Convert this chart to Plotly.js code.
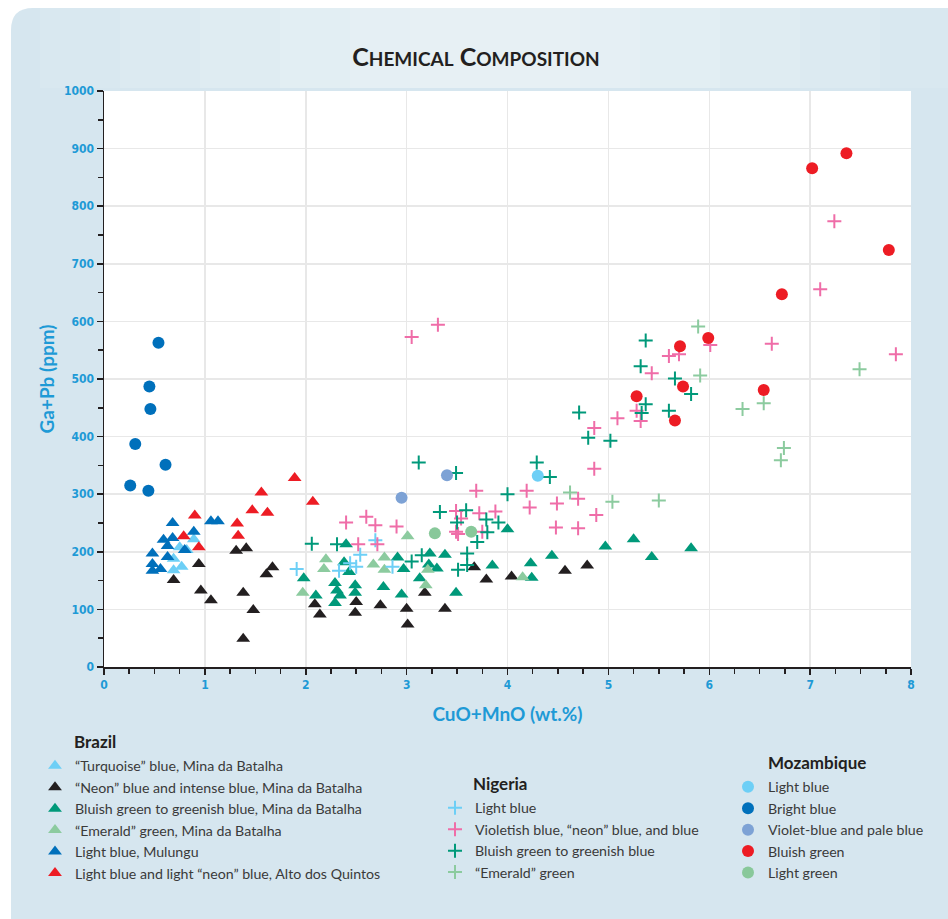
<!DOCTYPE html>
<html>
<head>
<meta charset="utf-8">
<script src="https://cdn.plot.ly/plotly-3.0.1.min.js"></script>
<style>html,body{margin:0;padding:0;background:#fff;}#chart{width:948px;height:919px;}</style>
</head>
<body>
<div id="chart"></div>
<script>
// ---------- Data (CuO+MnO wt.% , Ga+Pb ppm) ----------
// Brazil
const brTurqX = [0.69, 0.69, 0.75, 0.77, 0.82, 0.89];
const brTurqY = [188, 168, 208, 174, 203, 222];

const brNeonX = [0.69, 0.94, 0.96, 1.06, 1.31, 1.41, 1.38, 1.48, 1.38, 1.61, 1.67, 2.09, 2.14, 2.50, 2.49, 2.74, 3.00, 3.01, 3.18, 3.38, 3.67, 3.79, 4.04, 4.57, 4.79];
const brNeonY = [151, 179, 133, 116, 202, 206, 129, 99, 49, 161, 173, 109, 91, 113, 94, 107, 101, 74, 129, 101, 173, 152, 157, 167, 176];

const brBgX = [1.98, 2.10, 2.40, 2.38, 2.43, 2.29, 2.31, 2.34, 2.29, 2.49, 2.49, 2.77, 2.91, 2.97, 2.95, 3.13, 3.23, 3.22, 3.30, 3.38, 3.49, 3.85, 4.00, 4.23, 4.24, 4.44, 4.97, 5.25, 5.43, 5.82];
const brBgY = [154, 124, 213, 182, 165, 146, 133, 124, 111, 142, 129, 139, 190, 170, 126, 154, 197, 178, 171, 195, 129, 176, 239, 180, 155, 193, 209, 222, 191, 206];

const brEmX = [1.97, 2.20, 2.18, 2.67, 2.78, 2.78, 3.01, 3.21, 3.19, 4.15];
const brEmY = [129, 187, 170, 178, 190, 169, 227, 169, 142, 156];

const brMulX = [0.48, 0.48, 0.48, 0.56, 0.59, 0.68, 0.68, 0.63, 0.63, 0.80, 0.89, 1.06, 1.13];
const brMulY = [197, 179, 167, 170, 221, 250, 224, 210, 191, 203, 235, 253, 253];

const brAltoX = [0.79, 0.90, 0.94, 1.32, 1.33, 1.47, 1.56, 1.62, 1.89, 2.07];
const brAltoY = [227, 263, 208, 249, 228, 272, 303, 268, 328, 287];

// Nigeria
const ngLbX = [1.91, 2.33, 2.44, 2.50, 2.54, 2.69, 2.86];
const ngLbY = [170, 167, 180, 174, 195, 220, 174];

const ngVioX = [2.40, 2.52, 2.60, 2.69, 2.71, 2.90, 3.05, 3.31, 3.49, 3.54, 3.49, 3.51, 3.69, 3.72, 3.75, 3.88, 4.19, 4.22, 4.49, 4.48, 4.70, 4.70, 4.86, 4.86, 4.88, 5.09, 5.28, 5.32, 5.43, 5.60, 5.70, 6.01, 6.62, 7.10, 7.24, 7.85];
const ngVioY = [251, 213, 261, 246, 213, 244, 573, 594, 271, 258, 235, 231, 306, 267, 235, 270, 306, 277, 284, 242, 292, 241, 415, 344, 264, 432, 445, 427, 510, 540, 543, 559, 561, 656, 774, 543];

const ngBgX = [2.06, 2.31, 3.05, 3.12, 3.15, 3.33, 3.49, 3.50, 3.51, 3.59, 3.60, 3.60, 3.70, 3.79, 3.80, 3.91, 4.00, 4.29, 4.42, 4.71, 4.80, 5.02, 5.32, 5.33, 5.37, 5.37, 5.60, 5.66, 5.82];
const ngBgY = [214, 213, 183, 355, 194, 269, 337, 251, 169, 272, 197, 177, 217, 256, 234, 251, 300, 355, 330, 442, 398, 393, 522, 441, 456, 567, 445, 501, 474];

const ngEmX = [4.62, 5.04, 5.50, 5.89, 5.91, 6.33, 6.54, 6.74, 6.71, 7.49];
const ngEmY = [303, 287, 289, 591, 506, 448, 458, 380, 359, 517];

// Mozambique
const mzLbX = [4.30];
const mzLbY = [332];

const mzBbX = [0.54, 0.45, 0.46, 0.31, 0.61, 0.26, 0.44];
const mzBbY = [563, 487, 448, 387, 351, 315, 306];

const mzVioX = [2.95, 3.40];
const mzVioY = [294, 333];

const mzBgX = [5.71, 5.99, 5.28, 5.74, 5.66, 6.54, 7.02, 7.36, 7.78, 6.72];
const mzBgY = [557, 571, 470, 487, 428, 481, 866, 892, 724, 647];

const mzLgX = [3.28, 3.64];
const mzLgY = [232, 235];

// ---------- Styling ----------
const C = {
  turq: '#6DCFF6', black: '#231F20', bgreen: '#00997A', emerald: '#8CCB9F',
  mul: '#0070BB', red: '#ED1C24', pink: '#EF6DA8', vio: '#7DA2D5', lgreen: '#88C89A'
};
const TXT = 'Lato, "Open Sans", sans-serif';

function tri(x, y, color, name, legend) {
  return {x, y, name, type: 'scatter', mode: 'markers', legend,
    marker: {symbol: 'triangle-up', size: 12, color, line: {width: 0}}};
}
function crs(x, y, color, name, legend) {
  return {x, y, name, type: 'scatter', mode: 'markers', legend,
    marker: {symbol: 'cross-thin', size: 10, color, line: {width: 2, color}}};
}
function dot(x, y, color, name, legend) {
  return {x, y, name, type: 'scatter', mode: 'markers', legend,
    marker: {symbol: 'circle', size: 12, color, line: {width: 0}}};
}

const traces = [
  tri(brTurqX, brTurqY, C.turq, '\u201CTurquoise\u201D blue, Mina da Batalha', 'legend'),
  tri(brNeonX, brNeonY, C.black, '\u201CNeon\u201D blue and intense blue, Mina da Batalha', 'legend'),
  tri(brBgX, brBgY, C.bgreen, 'Bluish green to greenish blue, Mina da Batalha', 'legend'),
  tri(brEmX, brEmY, C.emerald, '\u201CEmerald\u201D green, Mina da Batalha', 'legend'),
  tri(brMulX, brMulY, C.mul, 'Light blue, Mulungu', 'legend'),
  tri(brAltoX, brAltoY, C.red, 'Light blue and light \u201Cneon\u201D blue, Alto dos Quintos', 'legend'),
  crs(ngLbX, ngLbY, C.turq, 'Light blue', 'legend2'),
  crs(ngVioX, ngVioY, C.pink, 'Violetish blue, \u201Cneon\u201D blue, and blue', 'legend2'),
  crs(ngBgX, ngBgY, C.bgreen, 'Bluish green to greenish blue', 'legend2'),
  crs(ngEmX, ngEmY, C.emerald, '\u201CEmerald\u201D green', 'legend2'),
  dot(mzLbX, mzLbY, C.turq, 'Light blue', 'legend3'),
  dot(mzBbX, mzBbY, C.mul, 'Bright blue', 'legend3'),
  dot(mzVioX, mzVioY, C.vio, 'Violet-blue and pale blue', 'legend3'),
  dot(mzBgX, mzBgY, C.red, 'Bluish green', 'legend3'),
  dot(mzLgX, mzLgY, C.lgreen, 'Light green', 'legend3')
];

// pixel helpers for layout (plot area: x 104..911, y 91..667)
const W = 948, H = 919, L = 104, R = 37, T = 91, B = 252;
const pw = W - L - R, ph = H - T - B;
const px = v => (v - L) / pw;
const py = v => (H - B - v) / ph;

const shapes = [];
// panel with rounded top-left corner
const r = 22;
shapes.push({type: 'path', xref: 'paper', yref: 'paper', layer: 'below',
  path: `M ${px(11)},${py(919)} L ${px(11)},${py(8 + r)} Q ${px(11)},${py(8)} ${px(11 + r)},${py(8)} L ${px(948)},${py(8)} L ${px(948)},${py(919)} Z`,
  fillcolor: '#D6E6EF', line: {width: 0}});
// soft highlight at top
const hl = [[40, 948, 0.08], [120, 880, 0.09], [200, 800, 0.10], [280, 720, 0.10], [350, 640, 0.10], [410, 580, 0.08]];
hl.forEach(([a, b, o]) => {
  shapes.push({type: 'rect', xref: 'paper', yref: 'paper', layer: 'below',
    x0: px(a), x1: px(b), y0: py(88), y1: py(8),
    fillcolor: 'rgba(255,255,255,' + o + ')', line: {width: 0}});
});
// white plot area
shapes.push({type: 'rect', xref: 'paper', yref: 'paper', layer: 'below',
  x0: 0, x1: 1, y0: 0, y1: 1, fillcolor: '#FFFFFF', line: {width: 0}});

const headFont = {family: TXT, size: 17, color: '#231F20', weight: 'bold'};
const annotations = [
  {text: '<b>Brazil</b>', x: px(72), y: py(741), xref: 'paper', yref: 'paper', xanchor: 'left', yanchor: 'middle', showarrow: false, font: headFont},
  {text: '<b>Nigeria</b>', x: px(471), y: py(783), xref: 'paper', yref: 'paper', xanchor: 'left', yanchor: 'middle', showarrow: false, font: headFont},
  {text: '<b>Mozambique</b>', x: px(766), y: py(762), xref: 'paper', yref: 'paper', xanchor: 'left', yanchor: 'middle', showarrow: false, font: headFont}
];

const legFont = {family: TXT, size: 14.2, color: '#3A3A3A'};
const legBase = {xref: 'paper', yref: 'paper', xanchor: 'left', yanchor: 'top',
  bgcolor: 'rgba(0,0,0,0)', borderwidth: 0, font: legFont, tracegroupgap: 0, itemclick: false};

const tickFont = {family: '"Liberation Sans Narrow", "DejaVu Sans Condensed", sans-serif', size: 12, color: '#1E9AD6', weight: 'bold'};
const axTitleFont = {family: TXT, size: 19, color: '#1E9AD6', weight: 'bold'};

const layout = {
  width: W, height: H,
  margin: {l: L, r: R, t: T, b: B, autoexpand: false},
  paper_bgcolor: '#FFFFFF', plot_bgcolor: 'rgba(0,0,0,0)',
  showlegend: true,
  title: {
    text: '<b>C<span style="font-size:19px">HEMICAL</span> C<span style="font-size:19px">OMPOSITION</span></b>',
    x: 476 / W, xanchor: 'center', y: 1 - 57 / H, yanchor: 'middle',
    font: {family: TXT, size: 25, color: '#231F20'}
  },
  xaxis: {
    range: [0, 8], dtick: 1, tick0: 0, showgrid: true, gridcolor: '#E8E8E8', gridwidth: 1.5,
    zeroline: false, showline: true, linecolor: '#231F20', linewidth: 1.5,
    ticks: 'outside', ticklen: 6, tickwidth: 1.5, tickcolor: '#231F20',
    minor: {dtick: 0.25, ticks: 'outside', ticklen: 5, tickwidth: 1.5, tickcolor: '#231F20', showgrid: false},
    tickfont: tickFont, automargin: false,
    title: {text: 'CuO+MnO (wt.%)', font: axTitleFont, standoff: 17}
  },
  yaxis: {
    range: [0, 1000], dtick: 100, tick0: 0, showgrid: true, gridcolor: '#E8E8E8', gridwidth: 1.5,
    zeroline: false, showline: true, linecolor: '#231F20', linewidth: 1.5,
    ticks: 'outside', ticklen: 6, tickwidth: 1.5, tickcolor: '#231F20',
    minor: {dtick: 50, ticks: 'outside', ticklen: 5, tickwidth: 1.5, tickcolor: '#231F20', showgrid: false},
    tickfont: tickFont, automargin: false,
    title: {text: 'Ga+Pb (ppm)', font: axTitleFont, standoff: 4}
  },
  legend: Object.assign({}, legBase, {x: px(35), y: py(750)}),
  legend2: Object.assign({}, legBase, {x: px(435), y: py(792)}),
  legend3: Object.assign({}, legBase, {x: px(728), y: py(771)}),
  shapes, annotations,
  hovermode: false
};

Plotly.newPlot('chart', traces, layout, {displayModeBar: false, staticPlot: true});
</script>
</body>
</html>
